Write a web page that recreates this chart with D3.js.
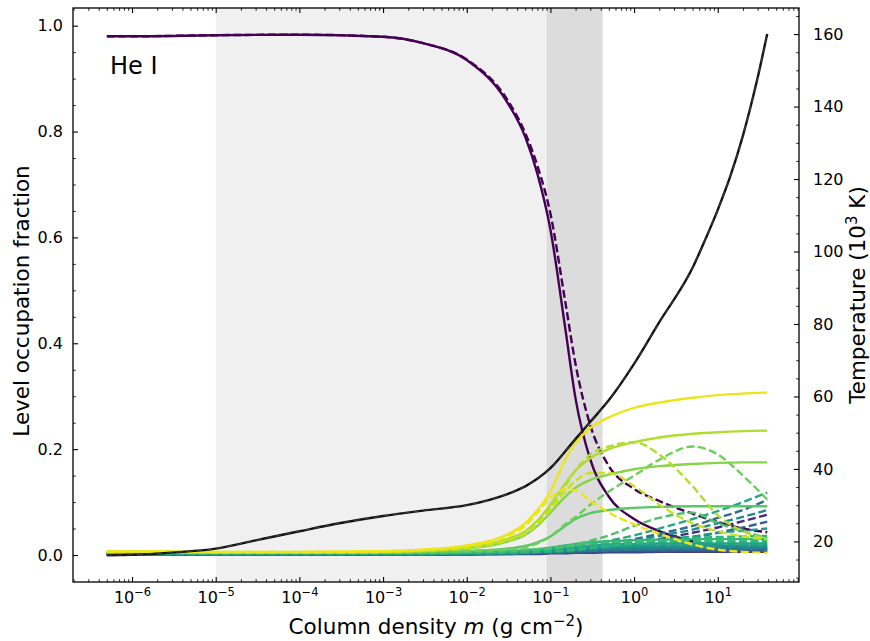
<!DOCTYPE html>
<html><head><meta charset="utf-8">
<script src="https://cdn.jsdelivr.net/npm/d3@7"></script>
<style>body{margin:0;background:#fff}svg{display:block;font-family:"DejaVu Sans",sans-serif}</style>
</head><body><svg id="c" width="870" height="641"></svg>
<script>
// ---- data ----
const columnDensity = [5e-7,1e-6,1e-5,1e-4,1e-3,3e-3,1e-2,3e-2,5e-2,7e-2,0.1,0.15,0.2,0.3,0.5,1,2,5,10,20,39];

const level0Solid   = [0.980,0.980,0.982,0.983,0.979,0.967,0.935,0.857,0.790,0.720,0.615,0.430,0.295,0.180,0.110,0.068,0.045,0.026,0.018,0.014,0.012];
const level0Dashed  = [0.980,0.980,0.982,0.983,0.979,0.967,0.936,0.862,0.797,0.735,0.645,0.480,0.360,0.245,0.168,0.125,0.102,0.078,0.062,0.050,0.043];
const yellowSolid   = [0.007,0.007,0.006,0.006,0.007,0.010,0.018,0.038,0.060,0.085,0.120,0.180,0.212,0.240,0.260,0.278,0.288,0.297,0.302,0.305,0.307];
const yellowDashed  = [0.007,0.007,0.006,0.006,0.007,0.010,0.017,0.035,0.055,0.080,0.108,0.124,0.122,0.102,0.080,0.058,0.040,0.020,0.010,0.006,0.004];
const ygSolid       = [0.006,0.006,0.005,0.005,0.006,0.008,0.014,0.030,0.045,0.065,0.095,0.135,0.160,0.183,0.200,0.213,0.222,0.229,0.232,0.234,0.235];
const ygDashed      = [0.006,0.006,0.005,0.005,0.006,0.008,0.014,0.028,0.042,0.060,0.090,0.130,0.160,0.190,0.205,0.213,0.190,0.130,0.075,0.045,0.030];
const lyDashed      = [0.006,0.006,0.005,0.005,0.006,0.008,0.013,0.027,0.040,0.058,0.085,0.120,0.140,0.155,0.155,0.130,0.095,0.060,0.045,0.035,0.030];
const greenSolid    = [0.005,0.005,0.004,0.004,0.005,0.007,0.012,0.025,0.038,0.055,0.080,0.110,0.127,0.142,0.152,0.162,0.168,0.172,0.174,0.175,0.175];
const greenDashed   = [0.005,0.005,0.004,0.004,0.005,0.006,0.008,0.011,0.015,0.022,0.035,0.058,0.072,0.095,0.120,0.150,0.180,0.205,0.190,0.150,0.105];
const green2Solid   = [0.004,0.004,0.004,0.004,0.004,0.005,0.007,0.012,0.017,0.024,0.035,0.055,0.068,0.079,0.085,0.089,0.091,0.092,0.092,0.092,0.092];
const green2Dashed  = [0.004,0.004,0.004,0.004,0.004,0.005,0.006,0.008,0.010,0.011,0.012,0.016,0.020,0.027,0.037,0.055,0.070,0.080,0.060,0.045,0.032];
const tealDashedA   = [0.003,0.003,0.003,0.003,0.003,0.003,0.004,0.005,0.006,0.007,0.009,0.012,0.015,0.020,0.027,0.037,0.050,0.068,0.083,0.100,0.118];
const blueDashedA   = [0.002,0.002,0.002,0.002,0.002,0.002,0.003,0.004,0.005,0.006,0.008,0.010,0.013,0.017,0.022,0.030,0.040,0.055,0.070,0.085,0.104];
const tealDashedB   = [0.002,0.002,0.002,0.002,0.002,0.002,0.003,0.004,0.005,0.006,0.007,0.009,0.011,0.015,0.020,0.027,0.036,0.048,0.060,0.072,0.085];
const purpleDashedB = [0.001,0.001,0.001,0.001,0.001,0.001,0.002,0.003,0.004,0.005,0.006,0.008,0.010,0.013,0.018,0.023,0.030,0.042,0.052,0.064,0.076];
const blueDashedB   = [0.001,0.001,0.001,0.001,0.001,0.002,0.002,0.003,0.004,0.004,0.005,0.006,0.008,0.010,0.014,0.018,0.024,0.033,0.042,0.052,0.063];
const tealDashedC   = [0.002,0.002,0.002,0.002,0.002,0.002,0.003,0.004,0.004,0.005,0.006,0.007,0.009,0.012,0.016,0.021,0.028,0.035,0.042,0.046,0.050];
const greenDashedC  = [0.003,0.003,0.003,0.003,0.003,0.003,0.004,0.004,0.005,0.006,0.007,0.008,0.010,0.013,0.017,0.022,0.027,0.032,0.034,0.035,0.036];
const clusterSolid1 = [0.004,0.004,0.004,0.004,0.004,0.004,0.005,0.007,0.009,0.011,0.014,0.018,0.021,0.024,0.026,0.028,0.029,0.030,0.030,0.030,0.030];
const clusterSolid2 = [0.003,0.003,0.003,0.003,0.003,0.003,0.004,0.005,0.007,0.009,0.011,0.014,0.016,0.018,0.020,0.021,0.022,0.022,0.022,0.022,0.022];
const clusterSolid3 = [0.003,0.003,0.003,0.003,0.003,0.003,0.003,0.004,0.005,0.006,0.008,0.010,0.012,0.014,0.016,0.017,0.018,0.018,0.018,0.018,0.018];
const clusterSolid4 = [0.002,0.002,0.002,0.002,0.002,0.002,0.003,0.003,0.004,0.005,0.006,0.008,0.009,0.011,0.012,0.013,0.014,0.014,0.014,0.014,0.014];
const clusterSolid5 = [0.002,0.002,0.002,0.002,0.002,0.002,0.002,0.003,0.003,0.004,0.005,0.006,0.007,0.008,0.009,0.010,0.011,0.011,0.011,0.011,0.011];
const clusterSolid6 = [0.001,0.001,0.001,0.001,0.001,0.001,0.002,0.002,0.003,0.003,0.004,0.005,0.005,0.006,0.007,0.007,0.008,0.008,0.008,0.008,0.008];
const clusterSolid7 = [0.001,0.001,0.001,0.001,0.001,0.001,0.001,0.002,0.002,0.002,0.003,0.003,0.004,0.004,0.005,0.005,0.006,0.006,0.006,0.006,0.006];
const clusterDashed1= [0.004,0.004,0.004,0.004,0.004,0.004,0.005,0.007,0.009,0.011,0.013,0.016,0.018,0.021,0.024,0.026,0.027,0.028,0.028,0.028,0.028];
const clusterDashed2= [0.003,0.003,0.003,0.003,0.003,0.003,0.004,0.006,0.007,0.009,0.011,0.013,0.015,0.018,0.020,0.022,0.024,0.025,0.025,0.025,0.025];
const clusterDashed3= [0.003,0.003,0.003,0.003,0.003,0.003,0.004,0.005,0.006,0.007,0.009,0.011,0.012,0.014,0.016,0.018,0.019,0.020,0.020,0.020,0.020];
const clusterDashed4= [0.002,0.002,0.002,0.002,0.002,0.002,0.003,0.004,0.005,0.006,0.007,0.008,0.009,0.011,0.013,0.014,0.015,0.016,0.016,0.016,0.016];
const clusterDashed5= [0.002,0.002,0.002,0.002,0.002,0.002,0.002,0.003,0.004,0.004,0.005,0.006,0.007,0.008,0.009,0.010,0.011,0.012,0.012,0.012,0.012];

const tempDensity = [5e-7,1e-6,3e-6,1e-5,3e-5,1e-4,3e-4,1e-3,3e-3,1e-2,3e-2,0.05,0.1,0.2,0.3,0.5,1,2,5,7,10,14,20,30,39];
const temperature = [16.2,16.3,16.9,18.0,20.3,22.8,25.0,27.0,28.5,30.0,33.0,35.2,40.2,48.3,53.0,59.0,69.0,80.5,95.5,103.0,111.5,120.5,132.0,148.0,160.0];

const lightShade = [1e-5, 0.09];
const darkShade  = [0.09, 0.42];
const xMajorTicks = [1e-6,1e-5,1e-4,1e-3,1e-2,1e-1,1e0,1e1];
const xTickExps   = ["−6","−5","−4","−3","−2","−1","0","1"];
const yLeftTicks  = [0,0.2,0.4,0.6,0.8,1.0];
const yRightTicks = [20,40,60,80,100,120,140,160];

// series styling: [values, viridis position, dashed]
const series = [
  [level0Solid,0.0,false],[level0Dashed,0.0,true],
  [purpleDashedB,0.12,true],
  [clusterSolid7,0.18,false],[clusterSolid6,0.26,false],
  [blueDashedB,0.30,true],[blueDashedA,0.35,true],
  [clusterSolid5,0.38,false],[clusterDashed5,0.42,true],
  [clusterSolid4,0.45,false],[clusterDashed4,0.47,true],[tealDashedB,0.48,true],
  [clusterSolid3,0.52,false],[tealDashedC,0.55,true],[clusterDashed3,0.57,true],
  [clusterSolid2,0.58,false],[tealDashedA,0.60,true],[clusterDashed2,0.62,true],
  [greenDashedC,0.65,true],[clusterSolid1,0.66,false],[clusterDashed1,0.68,true],
  [green2Dashed,0.72,true],[green2Solid,0.74,false],
  [greenDashed,0.78,true],[greenSolid,0.82,false],
  [ygSolid,0.88,false],[ygDashed,0.88,true],[lyDashed,0.92,true],
  [yellowSolid,0.97,false],[yellowDashed,0.97,true]
];

// ---- layout ----
const L=73,R=799,T=8,B=582;
const svg=d3.select("#c");
const x=d3.scaleLog().domain([Math.pow(10,-6.7055),Math.pow(10,1.971)]).range([L,R]);
const yL=d3.scaleLinear().domain([-0.051,1.0334]).range([B,T]);
const yR=d3.scaleLinear().domain([8.8,167.2]).range([B,T]);

svg.append("defs").append("clipPath").attr("id","clip").append("rect")
  .attr("x",L).attr("y",T).attr("width",R-L).attr("height",B-T);
const plot=svg.append("g").attr("clip-path","url(#clip)");

plot.append("rect").attr("x",x(lightShade[0])).attr("y",T).attr("width",x(lightShade[1])-x(lightShade[0])).attr("height",B-T).attr("fill","#f0f0f0");
plot.append("rect").attr("x",x(darkShade[0])).attr("y",T).attr("width",x(darkShade[1])-x(darkShade[0])).attr("height",B-T).attr("fill","#dcdcdc");

const lineL=d3.line().x((d,i)=>x(columnDensity[i])).y(d=>yL(d)).curve(d3.curveMonotoneX);
series.forEach(([vals,t,dash])=>{
  plot.append("path").attr("d",lineL(vals)).attr("fill","none")
    .attr("stroke",d3.interpolateViridis(t)).attr("stroke-width",2.4)
    .attr("stroke-dasharray",dash?"8,3.5":null);
});

const lineT=d3.line().x((d,i)=>x(tempDensity[i])).y(d=>yR(d)).curve(d3.curveMonotoneX);
plot.append("path").attr("d",lineT(temperature)).attr("fill","none").attr("stroke","#111").attr("stroke-width",2.4);
plot.append("path").attr("d",lineT(temperature)).attr("fill","none").attr("stroke","#555").attr("stroke-width",0.7).attr("stroke-dasharray","6,4");

svg.append("text").attr("x",110).attr("y",73.5).attr("font-size",24).text("He I");

// ---- axes ----
const minors=[];
for(let e=-7;e<=1;e++)for(let k=2;k<=9;k++){const v=k*Math.pow(10,e);if(v>=x.domain()[0]&&v<=x.domain()[1])minors.push(v);}
function clean(g){g.select(".domain").remove();g.selectAll("line").attr("stroke","#000");}
const tickW=1.1;
svg.append("g").attr("transform",`translate(0,${B})`).call(d3.axisBottom(x).tickValues(minors).tickSize(-2.8).tickFormat("")).call(clean).selectAll("line").attr("stroke-width",0.85);
svg.append("g").attr("transform",`translate(0,${T})`).call(d3.axisTop(x).tickValues(minors).tickSize(-2.8).tickFormat("")).call(clean).selectAll("line").attr("stroke-width",0.85);
svg.append("g").attr("transform",`translate(0,${T})`).call(d3.axisTop(x).tickValues(xMajorTicks).tickSize(-5).tickFormat("")).call(clean).selectAll("line").attr("stroke-width",tickW);
const gx=svg.append("g").attr("transform",`translate(0,${B})`).call(d3.axisBottom(x).tickValues(xMajorTicks).tickSize(-5).tickPadding(10).tickFormat(""));
gx.call(clean); gx.selectAll("line").attr("stroke-width",tickW);
gx.selectAll(".tick text").each(function(d,i){
  const t=d3.select(this).attr("font-size",16).attr("font-family","DejaVu Sans").attr("fill","#000").attr("dy","0.71em");
  t.append("tspan").text("10");
  t.append("tspan").attr("font-size",11.5).attr("dy","-0.62em").text(xTickExps[i]);
});

const yMinor=d3.range(0,1.0001,0.05).filter(v=>!yLeftTicks.some(m=>Math.abs(m-v)<1e-6));
svg.append("g").attr("transform",`translate(${L},0)`).call(d3.axisLeft(yL).tickValues(yMinor).tickSize(-2.8).tickFormat("")).call(clean).selectAll("line").attr("stroke-width",0.85);
const gyl=svg.append("g").attr("transform",`translate(${L},0)`).call(d3.axisLeft(yL).tickValues(yLeftTicks).tickSize(-5).tickPadding(10).tickFormat(d3.format(".1f")));
gyl.call(clean); gyl.selectAll("line").attr("stroke-width",tickW);
gyl.selectAll("text").attr("font-size",16).attr("font-family","DejaVu Sans").attr("fill","#000");

const rMinor=d3.range(10,166,5).filter(v=>v%20!==0);
svg.append("g").attr("transform",`translate(${R},0)`).call(d3.axisRight(yR).tickValues(rMinor).tickSize(-2.8).tickFormat("")).call(clean).selectAll("line").attr("stroke-width",0.85);
const gyr=svg.append("g").attr("transform",`translate(${R},0)`).call(d3.axisRight(yR).tickValues(yRightTicks).tickSize(-5).tickPadding(14).tickFormat(d3.format("d")));
gyr.call(clean); gyr.selectAll("line").attr("stroke-width",tickW);
gyr.selectAll("text").attr("font-size",16).attr("font-family","DejaVu Sans").attr("fill","#000");

svg.append("rect").attr("x",L).attr("y",T).attr("width",R-L).attr("height",B-T).attr("fill","none").attr("stroke","#000").attr("stroke-width",1.3);

// labels
const xl=svg.append("text").attr("x",(L+R)/2).attr("y",634).attr("text-anchor","middle").attr("font-size",21.5);
xl.append("tspan").text("Column density ");
xl.append("tspan").attr("font-style","italic").text("m");
xl.append("tspan").text(" (g cm");
xl.append("tspan").attr("font-size",15).attr("dy",-8.5).text("−2");
xl.append("tspan").attr("dy",8.5).text(")");

svg.append("text").attr("transform","translate(29,301) rotate(-90)").attr("text-anchor","middle").attr("font-size",21.5).text("Level occupation fraction");
const yr=svg.append("text").attr("transform","translate(865,295) rotate(-90)").attr("text-anchor","middle").attr("font-size",21.5);
yr.append("tspan").text("Temperature (10");
yr.append("tspan").attr("font-size",15).attr("dy",-8.5).text("3");
yr.append("tspan").attr("dy",8.5).text(" K)");
</script></body></html>
